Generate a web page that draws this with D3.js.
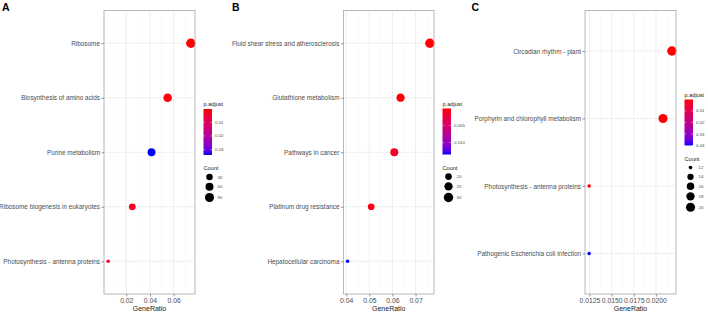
<!DOCTYPE html>
<html>
<head>
<meta charset="utf-8">
<script src="https://cdn.jsdelivr.net/npm/d3@7"></script>
<style>
  body { margin: 0; background: #fff; }
  svg { display: block; font-family: "Liberation Sans", Arial, sans-serif; }
</style>
</head>
<body>
<div id="chart"></div>
<script>
const width = 708, height = 312;

// panel A
const termsA = ["Ribosome", "Biosynthesis of amino acids", "Purine metabolism",
  "Ribosome biogenesis in eukaryotes", "Photosynthesis - antenna proteins"];
const ratioA = [0.0745, 0.0549, 0.0413, 0.0251, 0.0047];
const countA = [100, 74, 55, 34, 6];
const padjA = [0.0002, 0.0008, 0.034, 0.003, 0.004];
const xTicksA = [0.02, 0.04, 0.06];
const xMinorA = [0.01, 0.03, 0.05, 0.07];
const countBreaksA = [30, 60, 90];
const padjBreaksA = [0.01, 0.02, 0.03];

// panel B
const termsB = ["Fluid shear stress and atherosclerosis", "Glutathione metabolism",
  "Pathways in cancer", "Platinum drug resistance", "Hepatocellular carcinoma"];
const ratioB = [0.0762, 0.0635, 0.0608, 0.0508, 0.0406];
const countB = [30, 25, 24, 20, 16];
const padjB = [0.0001, 0.0003, 0.0015, 0.0006, 0.0135];
const xTicksB = [0.04, 0.05, 0.06, 0.07];
const xMinorB = [0.045, 0.055, 0.065, 0.075];
const countBreaksB = [20, 25, 30];
const padjBreaksB = [0.005, 0.010];

// panel C
const termsC = ["Circadian rhythm - plant", "Porphyrin and chlorophyll metabolism",
  "Photosynthesis - antenna proteins", "Pathogenic Escherichia coli infection"];
const ratioC = [0.0218, 0.0208, 0.01246, 0.01246];
const countC = [21, 20, 12, 12];
const padjC = [0.0001, 0.0003, 0.0005, 0.04];
const xTicksC = [0.0125, 0.0150, 0.0175, 0.0200];
const xMinorC = [0.01375, 0.01625, 0.01875, 0.02125];
const countBreaksC = [12, 14, 16, 18, 20];
const padjBreaksC = [0.01, 0.02, 0.03, 0.04];

const panels = [
  { tag: "A", tagX: 2, left: 104, right: 195, terms: termsA, ratio: ratioA, count: countA, padj: padjA,
    ticks: xTicksA, minor: xMinorA, fmt: d3.format(".2f"), cBreaks: countBreaksA, pBreaks: padjBreaksA,
    pFmt: d3.format(".2f"), legTop: 104 },
  { tag: "B", tagX: 232, left: 343.5, right: 434, terms: termsB, ratio: ratioB, count: countB, padj: padjB,
    ticks: xTicksB, minor: xMinorB, fmt: d3.format(".2f"), cBreaks: countBreaksB, pBreaks: padjBreaksB,
    pFmt: d3.format(".3f"), legTop: 103.5 },
  { tag: "C", tagX: 471.5, left: 585, right: 676, terms: termsC, ratio: ratioC, count: countC, padj: padjC,
    ticks: xTicksC, minor: xMinorC, fmt: d3.format(".4f"), cBreaks: countBreaksC, pBreaks: padjBreaksC,
    pFmt: d3.format(".2f"), legTop: 94.5 }
];

const plotTop = 10.5, plotBottom = 294;
const rMin = 1.8, rMax = 4.7;
const textCol = "#4d4d4d";

const svg = d3.select("#chart").append("svg")
  .attr("width", width).attr("height", height);

for (const p of panels) {
  const g = svg.append("g");
  const rows = p.terms.map((t, i) => ({ term: t, ratio: p.ratio[i], count: p.count[i], padj: p.padj[i] }));

  // x with 5% expansion
  const [lo, hi] = d3.extent(p.ratio);
  const pad = (hi - lo) * 0.05;
  const x = d3.scaleLinear().domain([lo - pad, hi + pad]).range([p.left, p.right]);

  // discrete y with 0.6 expansion
  const n = p.terms.length;
  const step = (plotBottom - plotTop) / (n - 1 + 1.2);
  const y = d3.scalePoint().domain(p.terms)
    .range([plotTop + 0.6 * step, plotBottom - 0.6 * step]);

  const cMin = d3.min(p.count), cMax = d3.max(p.count);
  const rs = d3.scaleSqrt().domain([0, cMax - cMin]).range([rMin, rMax]);
  const r = c => rs(Math.max(0, c - cMin));

  const pMin = d3.min(p.padj), pMax = d3.max(p.padj);
  const color = d3.scaleLinear().domain([pMin, pMax]).range(["red", "blue"])
    .interpolate(d3.interpolateLab);

  // grid
  g.selectAll(".minor").data(p.minor.filter(v => x(v) > p.left && x(v) < p.right)).join("line")
    .attr("x1", d => x(d)).attr("x2", d => x(d)).attr("y1", plotTop).attr("y2", plotBottom)
    .attr("stroke", "#f4f4f4").attr("stroke-width", 0.5);
  g.selectAll(".major").data(p.ticks).join("line")
    .attr("x1", d => x(d)).attr("x2", d => x(d)).attr("y1", plotTop).attr("y2", plotBottom)
    .attr("stroke", "#ebebeb").attr("stroke-width", 0.8);
  g.selectAll(".hgrid").data(p.terms).join("line")
    .attr("x1", p.left).attr("x2", p.right).attr("y1", d => y(d)).attr("y2", d => y(d))
    .attr("stroke", "#ebebeb").attr("stroke-width", 0.8);

  // points
  g.selectAll("circle.pt").data(rows).join("circle")
    .attr("cx", d => x(d.ratio)).attr("cy", d => y(d.term))
    .attr("r", d => r(d.count)).attr("fill", d => color(d.padj));

  // frame
  g.append("rect").attr("x", p.left).attr("y", plotTop)
    .attr("width", p.right - p.left).attr("height", plotBottom - plotTop)
    .attr("fill", "none").attr("stroke", "#b0b0b0").attr("stroke-width", 0.9);

  // y axis
  const ya = g.append("g").attr("transform", `translate(${p.left},0)`)
    .call(d3.axisLeft(y).tickSize(2.5).tickPadding(1.5));
  ya.select(".domain").remove();
  ya.selectAll("line").attr("stroke", "#555").attr("stroke-width", 0.6);
  ya.selectAll("text").attr("fill", textCol).attr("font-size", 6.4);

  // x axis
  const xa = g.append("g").attr("transform", `translate(0,${plotBottom})`)
    .call(d3.axisBottom(x).tickValues(p.ticks).tickFormat(p.fmt).tickSize(2.5).tickPadding(1.5));
  xa.select(".domain").remove();
  xa.selectAll("line").attr("stroke", "#555").attr("stroke-width", 0.6);
  xa.selectAll("text").attr("fill", textCol).attr("font-size", 6.8);

  g.append("text").attr("x", (p.left + p.right) / 2).attr("y", 311)
    .attr("text-anchor", "middle").attr("font-size", 7).attr("fill", "#222")
    .text("GeneRatio");

  g.append("text").attr("x", p.tagX).attr("y", 10.5)
    .attr("font-size", 10.5).attr("font-weight", "bold").attr("fill", "#000")
    .text(p.tag);

  // colour legend
  const lx = p.right + 8.5;
  const barTop = p.legTop + 5, barH = 46, barW = 8.5;
  g.append("text").attr("x", lx).attr("y", p.legTop + 2)
    .attr("font-size", 5.6).attr("fill", "#222").text("p.adjust");
  const gradId = "grad" + p.tag;
  const grad = svg.append("defs").append("linearGradient").attr("id", gradId)
    .attr("x1", 0).attr("x2", 0).attr("y1", 0).attr("y2", 1);
  d3.range(0, 1.0001, 0.1).forEach(t => {
    grad.append("stop").attr("offset", t)
      .attr("stop-color", color(pMin + t * (pMax - pMin)));
  });
  g.append("rect").attr("x", lx).attr("y", barTop).attr("width", barW).attr("height", barH)
    .attr("fill", `url(#${gradId})`);
  const py = d3.scaleLinear().domain([pMin, pMax]).range([barTop, barTop + barH]);
  const pb = g.append("g").selectAll("g").data(p.pBreaks).join("g")
    .attr("transform", d => `translate(0,${py(d)})`);
  pb.append("line").attr("x1", lx).attr("x2", lx + 1.6).attr("stroke", "#fff").attr("stroke-width", 0.5);
  pb.append("line").attr("x1", lx + barW - 1.6).attr("x2", lx + barW).attr("stroke", "#fff").attr("stroke-width", 0.5);
  pb.append("text").attr("x", lx + barW + 3).attr("dy", "0.35em")
    .attr("font-size", 4.4).attr("fill", textCol).text(d => p.pFmt(d));

  // size legend
  const cTitle = barTop + barH + 15;
  g.append("text").attr("x", lx).attr("y", cTitle)
    .attr("font-size", 5.6).attr("fill", "#222").text("Count");
  let cy = cTitle + 2.5;
  const keys = p.cBreaks.map(c => {
    const kh = Math.max(9.2, 2 * r(c) + 2.2);
    const k = { c, y: cy + kh / 2 };
    cy += kh;
    return k;
  });
  const kg = g.append("g").selectAll("g").data(keys).join("g")
    .attr("transform", d => `translate(${lx + 6},${d.y})`);
  kg.append("circle").attr("r", d => r(d.c)).attr("fill", "#000");
  kg.append("text").attr("x", 8).attr("dy", "0.35em")
    .attr("font-size", 4.4).attr("fill", textCol).text(d => d.c);
}
</script>
</body>
</html>
